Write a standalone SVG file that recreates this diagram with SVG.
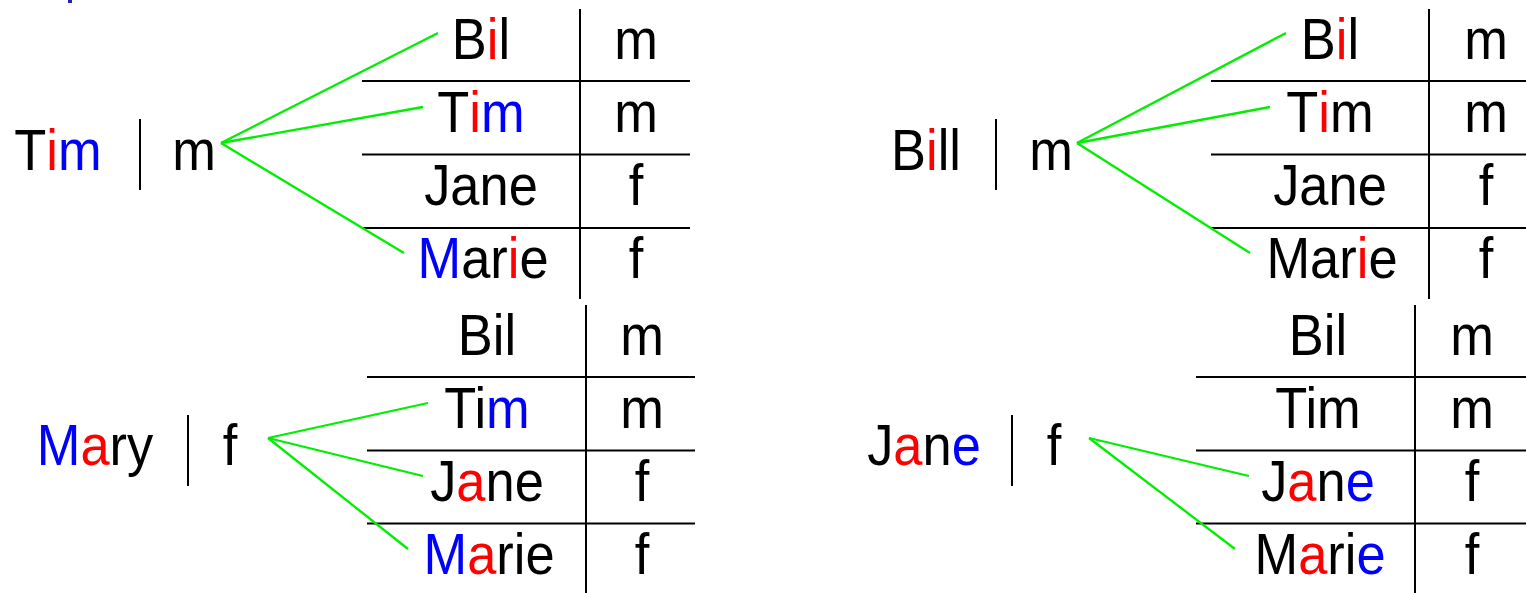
<svg xmlns="http://www.w3.org/2000/svg" width="1526" height="593" viewBox="0 0 1526 593">
<style>
text{font-family:"Liberation Sans",Arial,sans-serif;font-size:57px;fill:#000;text-anchor:middle}
.r{fill:#ff0000}
.b{fill:#0000ff}
.ln{stroke:#000;stroke-width:2;fill:none}
.g{stroke:#00ee00;stroke-width:2.3;fill:none}
</style>
<rect width="1526" height="593" fill="#fff"/>
<rect x="68" y="0" width="4" height="3" fill="#2020c0"/>

<g id="panel-tim">
  <text transform="translate(58,170) scale(0.92,1)">T<tspan class="r">i</tspan><tspan class="b">m</tspan></text>
  <line class="ln" x1="140" y1="119" x2="140" y2="190"/>
  <text transform="translate(194,170) scale(0.92,1)">m</text>
  <g id="table-tim">
    <line class="ln" x1="580" y1="9" x2="580" y2="299"/>
    <line class="ln" x1="362" y1="81" x2="690" y2="81"/>
    <line class="ln" x1="362" y1="154.5" x2="690" y2="154.5"/>
    <line class="ln" x1="362" y1="228" x2="690" y2="228"/>
    <text transform="translate(481,59) scale(0.92,1)">B<tspan class="r">i</tspan>l</text>
    <text transform="translate(636,59) scale(0.92,1)">m</text>
    <text transform="translate(481,132) scale(0.92,1)">T<tspan class="r">i</tspan><tspan class="b">m</tspan></text>
    <text transform="translate(636,132) scale(0.92,1)">m</text>
    <text transform="translate(481,205) scale(0.92,1)">Jane</text>
    <text transform="translate(636,205) scale(0.92,1)">f</text>
    <text transform="translate(483,278) scale(0.92,1)"><tspan class="b">M</tspan>ar<tspan class="r">i</tspan>e</text>
    <text transform="translate(636,278) scale(0.92,1)">f</text>
  </g>
</g>

<g id="panel-bill">
  <text transform="translate(926,170) scale(0.92,1)">B<tspan class="r">i</tspan>ll</text>
  <line class="ln" x1="996" y1="119" x2="996" y2="190"/>
  <text transform="translate(1051,170) scale(0.92,1)">m</text>
  <g id="table-bill">
    <line class="ln" x1="1429" y1="9" x2="1429" y2="299"/>
    <line class="ln" x1="1211" y1="81" x2="1526" y2="81"/>
    <line class="ln" x1="1211" y1="154.5" x2="1526" y2="154.5"/>
    <line class="ln" x1="1211" y1="228" x2="1526" y2="228"/>
    <text transform="translate(1330,59) scale(0.92,1)">B<tspan class="r">i</tspan>l</text>
    <text transform="translate(1486,59) scale(0.92,1)">m</text>
    <text transform="translate(1330,132) scale(0.92,1)">T<tspan class="r">i</tspan>m</text>
    <text transform="translate(1486,132) scale(0.92,1)">m</text>
    <text transform="translate(1330,205) scale(0.92,1)">Jane</text>
    <text transform="translate(1486,205) scale(0.92,1)">f</text>
    <text transform="translate(1332,278) scale(0.92,1)">Mar<tspan class="r">i</tspan>e</text>
    <text transform="translate(1486,278) scale(0.92,1)">f</text>
  </g>
</g>

<g id="panel-mary">
  <text transform="translate(95,465) scale(0.92,1)"><tspan class="b">M</tspan><tspan class="r">a</tspan>ry</text>
  <line class="ln" x1="188" y1="415" x2="188" y2="486"/>
  <text transform="translate(230,465) scale(0.92,1)">f</text>
  <g id="table-mary">
    <line class="ln" x1="586" y1="305" x2="586" y2="593"/>
    <line class="ln" x1="367" y1="377" x2="695" y2="377"/>
    <line class="ln" x1="367" y1="450.5" x2="695" y2="450.5"/>
    <line class="ln" x1="367" y1="523.5" x2="695" y2="523.5"/>
    <text transform="translate(487,355) scale(0.92,1)">Bil</text>
    <text transform="translate(642,355) scale(0.92,1)">m</text>
    <text transform="translate(487,428) scale(0.92,1)">Ti<tspan class="b">m</tspan></text>
    <text transform="translate(642,428) scale(0.92,1)">m</text>
    <text transform="translate(487,501) scale(0.92,1)">J<tspan class="r">a</tspan>ne</text>
    <text transform="translate(642,501) scale(0.92,1)">f</text>
    <text transform="translate(489,574) scale(0.92,1)"><tspan class="b">M</tspan><tspan class="r">a</tspan>rie</text>
    <text transform="translate(642,574) scale(0.92,1)">f</text>
  </g>
</g>

<g id="panel-jane">
  <text transform="translate(924,465) scale(0.92,1)">J<tspan class="r">a</tspan>n<tspan class="b">e</tspan></text>
  <line class="ln" x1="1012" y1="415" x2="1012" y2="486"/>
  <text transform="translate(1054,465) scale(0.92,1)">f</text>
  <g id="table-jane">
    <line class="ln" x1="1415" y1="305" x2="1415" y2="593"/>
    <line class="ln" x1="1196" y1="377" x2="1526" y2="377"/>
    <line class="ln" x1="1196" y1="450.5" x2="1526" y2="450.5"/>
    <line class="ln" x1="1196" y1="523.5" x2="1526" y2="523.5"/>
    <text transform="translate(1318,355) scale(0.92,1)">Bil</text>
    <text transform="translate(1472,355) scale(0.92,1)">m</text>
    <text transform="translate(1318,428) scale(0.92,1)">Tim</text>
    <text transform="translate(1472,428) scale(0.92,1)">m</text>
    <text transform="translate(1318,501) scale(0.92,1)">J<tspan class="r">a</tspan>n<tspan class="b">e</tspan></text>
    <text transform="translate(1472,501) scale(0.92,1)">f</text>
    <text transform="translate(1320,574) scale(0.92,1)">M<tspan class="r">a</tspan>ri<tspan class="b">e</tspan></text>
    <text transform="translate(1472,574) scale(0.92,1)">f</text>
  </g>
</g>

<g id="connectors">
  <line class="g" x1="221" y1="143" x2="438" y2="33"/>
  <line class="g" x1="221" y1="143" x2="423" y2="107"/>
  <line class="g" x1="221" y1="143" x2="404" y2="253"/>
  <line class="g" x1="1077" y1="143" x2="1286" y2="33"/>
  <line class="g" x1="1077" y1="143" x2="1270" y2="107"/>
  <line class="g" x1="1077" y1="143" x2="1250" y2="253"/>
  <line class="g" x1="268" y1="438" x2="428" y2="403"/>
  <line class="g" x1="268" y1="438" x2="423" y2="476"/>
  <line class="g" x1="268" y1="438" x2="408" y2="549"/>
  <line class="g" x1="1089" y1="438" x2="1249" y2="476"/>
  <line class="g" x1="1089" y1="438" x2="1235" y2="549"/>
</g>
</svg>
